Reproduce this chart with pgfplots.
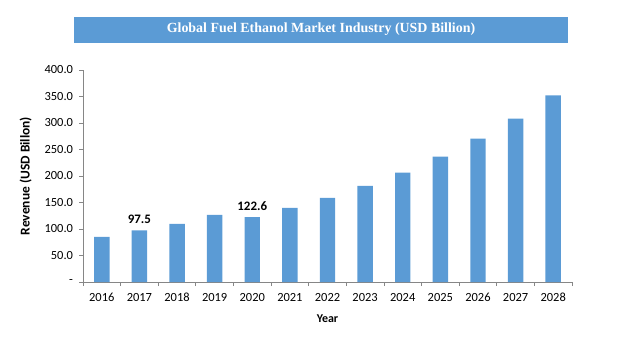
\documentclass[border=0pt]{standalone}
\usepackage{pgfplots}
\pgfplotsset{compat=1.18}
\usepackage{fontspec}
\setmainfont{Carlito}
\newfontfamily\titlefont{Liberation Serif}
\definecolor{barblue}{HTML}{5B9BD5}
\definecolor{axisgray}{HTML}{868686}
\begin{document}
\begin{tikzpicture}
\useasboundingbox (0bp,0bp) rectangle (635bp,-343bp);
\fill[barblue] (74bp,-17bp) rectangle (568bp,-43bp);
\node[text=white,font=\titlefont\bfseries\fontsize{14}{16}\selectfont] at (321bp,-29.5bp) {Global Fuel Ethanol Market Industry (USD Billion)};
\begin{axis}[
  at={(83bp,-282bp)}, anchor=south west,
  scale only axis, width=489bp, height=212bp,
  xmin=-0.5, xmax=12.5, ymin=0, ymax=400,
  axis x line*=bottom, axis y line*=left,
  axis line style={draw=axisgray, line width=0.8pt},
  xtick={0,...,12},
  xticklabels={2016,2017,2018,2019,2020,2021,2022,2023,2024,2025,2026,2027,2028},
  minor xtick={-0.5,0.5,...,12.5},
  ytick={0,50,...,400},
  yticklabels={-,50.0,100.0,150.0,200.0,250.0,300.0,350.0,400.0},
  tick align=outside,
  major tick length=3.5bp, minor tick length=4bp,
  every major x tick/.style={draw=none},
  every minor x tick/.style={draw=axisgray, line width=0.8pt},
  every major y tick/.style={draw=axisgray, line width=0.8pt},
  tick label style={font=\fontsize{12.5}{14}\selectfont, text=black},
  xticklabel style={yshift=-4bp, text depth=0pt, text height=8bp},
  yticklabel style={xshift=-3bp},
  xlabel={\textbf{Year}}, ylabel={\textbf{Revenue (USD Billon)}},
  xlabel style={font=\fontsize{12}{14}\selectfont},
  ylabel style={font=\fontsize{13.5}{15}\selectfont},
  xlabel shift=7bp, ylabel shift=6bp,
  clip=false,
]
\addplot[ybar, bar width=0.41, fill=barblue, draw=none,
  point meta=explicit symbolic,
  nodes near coords, every node near coord/.append style={font=\bfseries\fontsize{13}{15}\selectfont, text=black, yshift=3bp}]
 coordinates {
 (0,85.1) []
 (1,97.5) [97.5]
 (2,109.7) []
 (3,126.8) []
 (4,122.6) [122.6]
 (5,140.0) []
 (6,158.9) []
 (7,181.6) []
 (8,206.2) []
 (9,236.5) []
 (10,270.5) []
 (11,308.4) []
 (12,351.9) []
 };
\end{axis}
\end{tikzpicture}
\end{document}
